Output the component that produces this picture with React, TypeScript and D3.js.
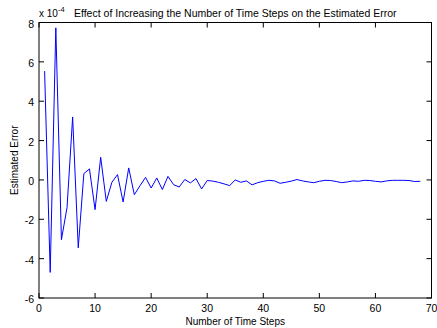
import React from "react";
import * as d3 from "d3";

// estimated error (x 1e-4) for each number of time steps
const steps = d3.range(1, 69);
const errors = [
  5.53, -4.7, 7.73, -3.04, -1.4, 3.2, -3.45, 0.32, 0.56, -1.51,
  1.15, -1.09, -0.12, 0.27, -1.12, 0.61, -0.75, -0.3, 0.13, -0.41,
  0.1, -0.49, 0.18, -0.24, -0.36, 0.02, -0.15, 0.07, -0.46, -0.03,
  -0.06, -0.12, -0.2, -0.29, 0.0, -0.12, -0.05, -0.25, -0.14, -0.07,
  -0.02, -0.05, -0.17, -0.12, -0.06, 0.02, -0.05, -0.1, -0.14, -0.07,
  -0.02, -0.03, -0.08, -0.14, -0.1, -0.05, -0.07, -0.02, -0.03, -0.07,
  -0.1, -0.05, -0.02, -0.02, -0.02, -0.03, -0.08, -0.07,
];
const xTicks = [0, 10, 20, 30, 40, 50, 60, 70];
const yTicks = [-6, -4, -2, 0, 2, 4, 6, 8];

const title = "Effect of Increasing the Number of Time Steps on the Estimated Error";
const xLabel = "Number of Time Steps";
const yLabel = "Estimated Error";

export default function App() {
  const ref = React.useRef<SVGSVGElement>(null);

  React.useEffect(() => {
    drawChart();
  }, []);

  function drawChart() {
    const width = 437;
    const height = 328;
    const margin = { top: 22.5, right: 5.5, bottom: 30, left: 39 };
    const svg = d3.select(ref.current);
    svg.selectAll("*").remove();

    const x = d3
      .scaleLinear()
      .domain([0, 70])
      .range([margin.left, width - margin.right]);
    const y = d3
      .scaleLinear()
      .domain([-6, 8])
      .range([height - margin.bottom, margin.top]);

    const font = "Liberation Sans, Arial, sans-serif";
    const x0 = margin.left;
    const x1 = width - margin.right;
    const y0 = height - margin.bottom;
    const y1 = margin.top;

    // box
    svg.append("rect")
      .attr("x", x0)
      .attr("y", y1)
      .attr("width", x1 - x0)
      .attr("height", y0 - y1)
      .attr("fill", "white")
      .attr("stroke", "black")
      .attr("stroke-width", 1);

    // inward ticks on all four sides
    const tickLen = 5;
    const g = svg.append("g").attr("stroke", "black").attr("stroke-width", 1);
    xTicks.forEach((t) => {
      g.append("line").attr("x1", x(t)).attr("x2", x(t)).attr("y1", y0).attr("y2", y0 - tickLen);
      g.append("line").attr("x1", x(t)).attr("x2", x(t)).attr("y1", y1).attr("y2", y1 + tickLen);
    });
    yTicks.forEach((t) => {
      g.append("line").attr("x1", x0).attr("x2", x0 + tickLen).attr("y1", y(t)).attr("y2", y(t));
      g.append("line").attr("x1", x1).attr("x2", x1 - tickLen).attr("y1", y(t)).attr("y2", y(t));
    });

    // tick labels
    svg.append("g")
      .selectAll("text")
      .data(xTicks)
      .enter()
      .append("text")
      .attr("x", (d) => x(d))
      .attr("y", y0 + 13.5)
      .attr("text-anchor", "middle")
      .attr("font-family", font)
      .attr("font-size", 10.5)
      .text((d) => d);

    svg.append("g")
      .selectAll("text")
      .data(yTicks)
      .enter()
      .append("text")
      .attr("x", x0 - 5)
      .attr("y", (d) => y(d) + 5)
      .attr("text-anchor", "end")
      .attr("font-family", font)
      .attr("font-size", 10.5)
      .text((d) => d);

    // exponent
    const exp = svg.append("text")
      .attr("x", x0)
      .attr("y", 17)
      .attr("font-family", font)
      .attr("font-size", 10);
    exp.append("tspan").text("x 10");
    exp.append("tspan").attr("dy", -5.5).attr("font-size", 7.5).text("-4");

    // title and axis labels
    svg.append("text")
      .attr("x", (x0 + x1) / 2)
      .attr("y", 16.5)
      .attr("text-anchor", "middle")
      .attr("font-family", font)
      .attr("font-size", 10.5)
      .text(title);

    svg.append("text")
      .attr("x", (x0 + x1) / 2)
      .attr("y", 325)
      .attr("text-anchor", "middle")
      .attr("font-family", font)
      .attr("font-size", 10)
      .text(xLabel);

    svg.append("text")
      .attr("transform", `translate(18,${(y0 + y1) / 2}) rotate(-90)`)
      .attr("text-anchor", "middle")
      .attr("font-family", font)
      .attr("font-size", 10)
      .text(yLabel);

    // series
    const line = d3
      .line<number>()
      .x((d, i) => x(steps[i]))
      .y((d) => y(d));

    svg.append("path")
      .datum(errors)
      .attr("d", line)
      .attr("fill", "none")
      .attr("stroke", "#0000ff")
      .attr("stroke-width", 1);
  }

  return (
    <svg
      ref={ref}
      width={437}
      height={328}
      style={{ position: "absolute", left: 0, top: 0, background: "white" }}
    />
  );
}
